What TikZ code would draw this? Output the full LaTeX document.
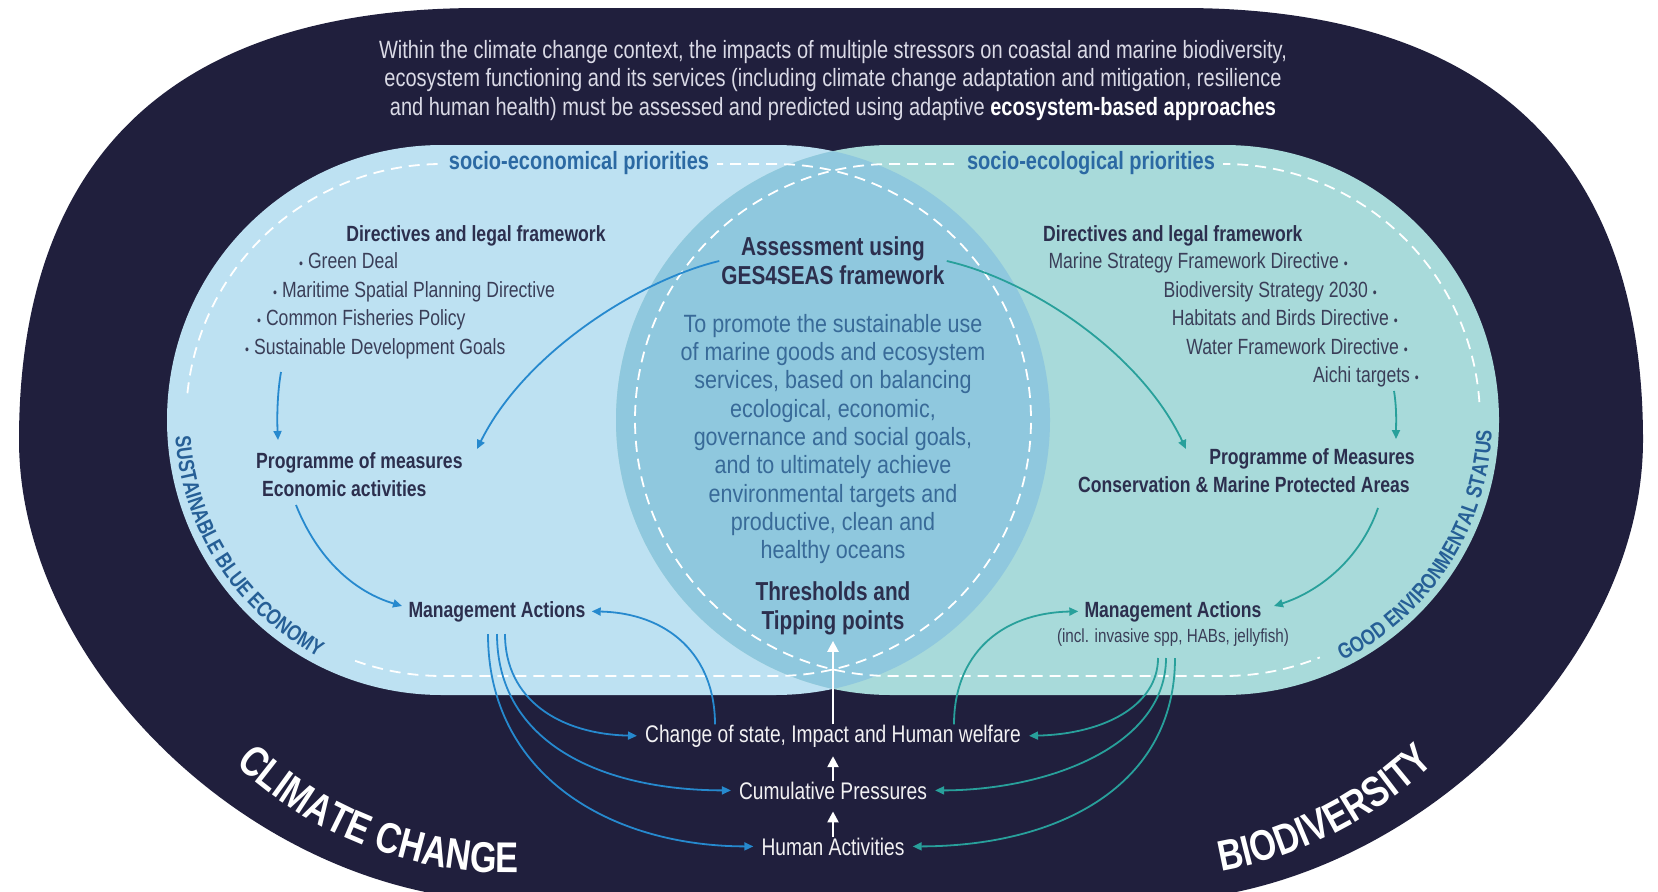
\documentclass[tikz,border=0pt]{standalone}
\usepackage{fontspec}
\setmainfont{Liberation Sans}[FakeStretch=0.8]
\newfontfamily\lensfont{Liberation Sans}[FakeStretch=0.86]
\usetikzlibrary{arrows.meta,decorations.text}

\definecolor{navy}{RGB}{32,31,61}
\definecolor{leftblue}{RGB}{189,225,242}
\definecolor{tealbg}{RGB}{168,218,218}
\definecolor{lensbg}{RGB}{143,200,222}
\definecolor{headnavy}{RGB}{44,47,78}
\definecolor{itemgray}{RGB}{58,62,88}
\definecolor{prioblue}{RGB}{43,105,163}
\definecolor{lensblue}{RGB}{56,106,152}
\definecolor{arrowblue}{RGB}{38,137,206}
\definecolor{arrowteal}{RGB}{40,160,155}
\definecolor{curvelabel}{RGB}{38,95,150}
\definecolor{topgray}{RGB}{218,218,230}

\newcommand\setfs[2]{\fontsize{#1bp}{#2bp}\selectfont}
% small list bullet
\newcommand\lbul{{\fontsize{14bp}{14bp}\selectfont•}}

\tikzset{
  every node/.style={inner sep=0pt},
  toptext/.style={text=topgray, font=\setfs{25}{29}},
  prio/.style={text=prioblue, font=\setfs{25}{29}\bfseries, inner xsep=8bp, inner ysep=3bp},
  head/.style={text=headnavy, font=\setfs{22}{26}\bfseries},
  item/.style={text=itemgray, font=\setfs{22}{26}},
  big/.style={text=headnavy, font=\setfs{26}{29}\bfseries, align=center},
  lenstxt/.style={text=lensblue, font={\lensfont\setfs{25}{28.3}}, align=center},
  wlabel/.style={text=white!94!navy, font=\setfs{24}{28}},
  smalltxt/.style={text=itemgray, font=\setfs{19}{22}},
  conn/.style={line width=1.8bp, -{Triangle[length=9bp,width=8bp]}},
  barrow/.style={conn, arrowblue},
  tarrow/.style={conn, arrowteal},
  warrow/.style={line width=2.4bp, white, -{Triangle[length=11bp,width=11bp]}},
  dashline/.style={white, line width=1.8bp, dash pattern=on 11bp off 7bp},
  bigword/.style={decorate, decoration={text along path, text align=center, text color=white,
      text={|\setfs{43}{46}\bfseries|#1}}},
  arcword/.style={decorate, decoration={text along path, text align=center, text color=curvelabel,
      text={|\setfs{22}{26}\bfseries|#1}}},
}

\begin{document}
\begin{tikzpicture}[x=1bp,y=-1bp]
\useasboundingbox (0,0) rectangle (1658,891);
\clip (0,0) rectangle (1658,891);
\fill[white] (0,0) rectangle (1658,891);

% outer dark band
\fill[navy] (480,8) -- (1182,8) .. controls (1502,8) and (1643,170) .. (1643,440)
  .. controls (1643,660) and (1420,880) .. (1182,900) -- (480,900)
  .. controls (240,880) and (19,660) .. (19,440)
  .. controls (19,170) and (160,8) .. cycle;

% the two overlapping fields and their common lens
\fill[leftblue, rounded corners=275bp] (167,145) rectangle (1050,695);
\fill[tealbg, rounded corners=275bp] (616,145) rectangle (1499,695);
\begin{scope}
  \clip (775,420) circle[radius=275];
  \fill[lensbg] (891,420) circle[radius=275];
\end{scope}

% dashed inner outlines
\draw[dashline] (442,164) -- (775,164) arc[start angle=-90, end angle=90, radius=256] -- (442,676)
  arc[start angle=90, end angle=110, radius=256];
\draw[dashline] (442,420) ++(186:256) arc[start angle=186, end angle=270, radius=256];
\draw[dashline] (1224,164) -- (891,164) arc[start angle=270, end angle=90, radius=256] -- (1224,676)
  arc[start angle=90, end angle=68, radius=256];
\draw[dashline] (1224,420) ++(-4:256) arc[start angle=-4, end angle=-90, radius=256];

% curved labels
\path[arcword={SUSTAINABLE BLUE ECONOMY}] (442,420) ++(184:267) arc[start angle=184, end angle=110, radius=267];
\path[arcword={GOOD ENVIRONMENTAL STATUS}] (1224,420) ++(70:268) arc[start angle=70, end angle=-4, radius=268];
\path[bigword={CLIMATE CHANGE}] (510,472) ++(138:401) arc[start angle=138, end angle=84, radius=401];
\path[bigword={BIODIVERSITY}] (1152,472) ++(92:405) arc[start angle=92, end angle=34, radius=405];

% heading text in the dark band
\node[toptext, anchor=base] (t1) at (833,58) {Within the climate change context, the impacts of multiple stressors on coastal and marine biodiversity,};
\node[toptext, anchor=base] (t2) at (833,86) {ecosystem functioning and its services (including climate change adaptation and mitigation, resilience};
\node[toptext, anchor=base] (t3) at (833,115) {and human health) must be assessed and predicted using adaptive \textcolor{white}{\bfseries ecosystem-based approaches}};

% priorities
\node[prio, fill=leftblue] (prioL) at (579,163) {socio-economical priorities};
\node[prio, fill=tealbg] (prioR) at (1091,163) {socio-ecological priorities};

% left field
\node[head, anchor=base] (dirL) at (476,241) {Directives and legal framework};
\node[item, anchor=base west] (gd) at (299,268) {\lbul\ Green Deal};
\node[item, anchor=base west] (msp) at (273,297) {\lbul\ Maritime Spatial Planning Directive};
\node[item, anchor=base west] (cfp) at (257,325) {\lbul\ Common Fisheries Policy};
\node[item, anchor=base west] (sdg) at (245,354) {\lbul\ Sustainable Development Goals};
\node[head, anchor=base west] (pomL) at (256,468) {Programme of measures};
\node[head, anchor=base west] (ecoL) at (262,496) {Economic activities};
\node[head, anchor=base] (mgmtL) at (497,617) {Management Actions};

% right field
\node[head, anchor=base west] (dirR) at (1043,241) {Directives and legal framework};
\node[item, anchor=base east] (msfd) at (1348,268) {Marine Strategy Framework Directive \lbul};
\node[item, anchor=base east] (bs) at (1377,297) {Biodiversity Strategy 2030 \lbul};
\node[item, anchor=base east] (hbd) at (1398,325) {Habitats and Birds Directive \lbul};
\node[item, anchor=base east] (wfd) at (1408,354) {Water Framework Directive \lbul};
\node[item, anchor=base east] (aichi) at (1419,382) {Aichi targets \lbul};
\node[head, anchor=base east] (pomR) at (1415,464) {Programme of Measures};
\node[head, anchor=base east] (conR) at (1410,492) {Conservation \& Marine Protected Areas};
\node[head, anchor=base] (mgmtR) at (1173,617) {Management Actions};
\node[smalltxt, anchor=base] (incl) at (1173,642) {(incl. invasive spp, HABs, jellyfish)};

% centre
\node[big] (ass) at (833,261) {Assessment using\\GES4SEAS framework};
\node[lenstxt, anchor=north] (goal) at (833,314) {To promote the sustainable use\\of marine goods and ecosystem\\services, based on balancing\\ecological, economic,\\governance and social goals,\\and to ultimately achieve\\environmental targets and\\productive, clean and\\healthy oceans};
\node[big] (thr) at (833,608) {Thresholds and\\Tipping points};

% DPSIR chain
\node[wlabel, anchor=base] (chg) at (833,742) {Change of state, Impact and Human welfare};
\node[wlabel, anchor=base] (cum) at (833,799) {Cumulative Pressures};
\node[wlabel, anchor=base] (hum) at (833,855) {Human Activities};

\draw[warrow, shorten >=6bp] (chg.north) -- (thr.south);
\draw[warrow, shorten >=9bp] (cum.north) -- (chg.south);
\draw[warrow, shorten >=12bp] (hum.north) -- (cum.south);

% arrow end points
\coordinate (a1s) at (281,372);
\coordinate (a1e) at (278,440);
\coordinate (a2s) at (296,505);
\coordinate (a2e) at (402,606);
\coordinate (a3e) at (477,449);
\coordinate (m1) at (505,634);
\coordinate (m2) at (497,634);
\coordinate (m3) at (488,634);
\coordinate (b1s) at (1394,391);
\coordinate (b1e) at (1396,439);
\coordinate (b2s) at (1378,508);
\coordinate (b2e) at (1274,606);
\coordinate (b3e) at (1186,449);
\coordinate (n1) at (1158,658);
\coordinate (n2) at (1166,658);
\coordinate (n3) at (1175,658);

% left connectors
\draw[barrow] (a1s) .. controls (277,395) and (277,420) .. (a1e);
\draw[barrow] (a2s) .. controls (318,560) and (355,592) .. (a2e);
\draw[barrow] ([xshift=-2bp]ass.west) .. controls (640,280) and (525,352) .. (a3e);
\draw[barrow] ([xshift=-118bp]chg.north) .. controls (715,655) and (668,613) .. ([xshift=6bp]mgmtL.east);
\draw[barrow] (m1) .. controls (505,700) and (560,734) .. ([xshift=-8bp]chg.west);
\draw[barrow] (m2) .. controls (497,742) and (600,790) .. ([xshift=-8bp]cum.west);
\draw[barrow] (m3) .. controls (488,775) and (610,846) .. ([xshift=-8bp]hum.west);

% right connectors
\draw[tarrow] (b1s) .. controls (1397,410) and (1396,425) .. (b1e);
\draw[tarrow] (b2s) .. controls (1360,560) and (1318,592) .. (b2e);
\draw[tarrow] ([xshift=2bp]ass.east) .. controls (1030,280) and (1140,352) .. (b3e);
\draw[tarrow] ([xshift=121bp]chg.north) .. controls (954,655) and (1000,613) .. ([xshift=-6bp]mgmtR.west);
\draw[tarrow] (n1) .. controls (1158,705) and (1105,734) .. ([xshift=8bp]chg.east);
\draw[tarrow] (n2) .. controls (1166,745) and (1050,790) .. ([xshift=8bp]cum.east);
\draw[tarrow] (n3) .. controls (1175,785) and (1060,846) .. ([xshift=8bp]hum.east);
\end{tikzpicture}
\end{document}
